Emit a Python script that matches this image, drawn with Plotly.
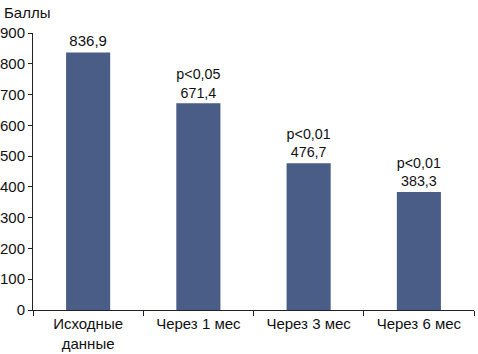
import plotly.graph_objects as go

categories = ["Исходные<br>данные", "Через 1 мес", "Через 3 мес", "Через 6 мес"]
values = [836.9, 671.4, 476.7, 383.3]
pvalues = ["", "p<0,05", "p<0,01", "p<0,01"]
y_ticks = [0, 100, 200, 300, 400, 500, 600, 700, 800, 900]

labels = []
for p, v in zip(pvalues, values):
    s = f"{v:.1f}".replace(".", ",")
    labels.append(f"{p}<br>{s}" if p else s)

font = dict(family="Liberation Sans Narrow, Liberation Sans, Arial", size=15, color="#111111")

fig = go.Figure(go.Bar(
    x=categories, y=values, text=labels, textposition="outside",
    textfont=font, cliponaxis=False,
    marker=dict(color="#4a5d87", line=dict(width=0)),
    width=0.4,
))

fig.update_layout(
    width=478, height=354,
    margin=dict(l=33, r=4, t=33, b=44),
    paper_bgcolor="white", plot_bgcolor="white",
    showlegend=False, font=font,
    annotations=[dict(text="Баллы", x=0, y=1, xref="paper", yref="paper",
                      xshift=-31, yshift=21, xanchor="left", yanchor="middle",
                      showarrow=False, font=font)],
)
fig.update_yaxes(range=[0, 900], tickvals=y_ticks, showgrid=False, zeroline=False,
                 showline=True, linecolor="#222222", linewidth=1, automargin=False,
                 ticks="outside", ticklen=4, tickcolor="#222222")
fig.update_xaxes(showgrid=False, showline=True, linecolor="#222222", linewidth=1,
                 automargin=False,
                 ticks="outside", ticklen=5, tickcolor="#222222", tickson="boundaries")

fig.write_html("out.html")
